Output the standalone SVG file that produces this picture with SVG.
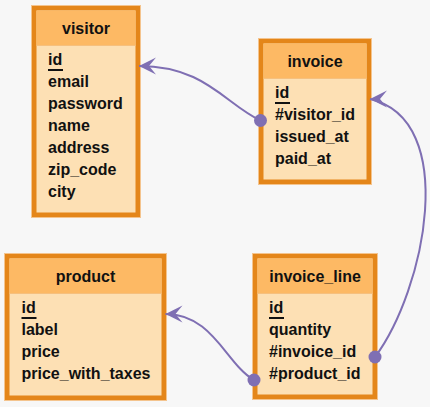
<svg xmlns="http://www.w3.org/2000/svg" width="430" height="407" viewBox="0 0 430 407">
<defs>
<style>
.edge{fill:none;stroke:#f4c48e;stroke-width:1}
.frame{fill:#fde0b4;stroke:#e4861a;stroke-width:4.5}
.head{fill:#fdb964}
.sep{stroke:#f6c07e;stroke-width:1}
.t{font-family:"Liberation Sans",Arial,sans-serif;font-weight:bold;font-size:16px;fill:#111}
.h{text-anchor:middle}
.ul{stroke:#111;stroke-width:2}
.conn{fill:none;stroke:#7f6fb3;stroke-width:2}
.dot{fill:#7f6fb3}
</style>
<marker id="arr" markerUnits="userSpaceOnUse" viewBox="-1 -10 20 20" refX="0" refY="0" markerWidth="20" markerHeight="20" orient="0">
<path d="M0,0 L17,-8.5 L10,0 L17,8.5 Z" fill="#7f6fb3"/>
</marker>
</defs>
<rect width="430" height="407" fill="#f7f7f7"/>

<g id="visitor">
<rect class="edge" x="31.5" y="5.5" width="109" height="212"/>
<rect class="frame" x="34.25" y="8.25" width="103.5" height="206.5"/>
<rect class="head" x="36.5" y="10.5" width="99" height="34.5"/>
<line class="sep" x1="36.5" y1="45.5" x2="135.5" y2="45.5"/>
<text class="t h" x="86" y="34">visitor</text>
<text class="t" x="48" y="65">id</text>
<line class="ul" x1="48" y1="70" x2="63" y2="70"/>
<text class="t" x="48" y="87">email</text>
<text class="t" x="48" y="109">password</text>
<text class="t" x="48" y="131">name</text>
<text class="t" x="48" y="153">address</text>
<text class="t" x="48" y="175">zip_code</text>
<text class="t" x="48" y="197">city</text>
</g>

<g id="invoice">
<rect class="edge" x="258.5" y="38.5" width="113" height="146"/>
<rect class="frame" x="261.25" y="41.25" width="107.5" height="140.5"/>
<rect class="head" x="263.5" y="43.5" width="103" height="34.5"/>
<line class="sep" x1="263.5" y1="78.5" x2="366.5" y2="78.5"/>
<text class="t h" x="315" y="67">invoice</text>
<text class="t" x="275" y="98">id</text>
<line class="ul" x1="275" y1="103" x2="290" y2="103"/>
<text class="t" x="275" y="120">#visitor_id</text>
<text class="t" x="275" y="142">issued_at</text>
<text class="t" x="275" y="164">paid_at</text>
</g>

<g id="product">
<rect class="edge" x="4.5" y="253.5" width="162" height="147"/>
<rect class="frame" x="7.25" y="256.25" width="156.5" height="141.5"/>
<rect class="head" x="9.5" y="258.5" width="152" height="34.5"/>
<line class="sep" x1="9.5" y1="293.5" x2="161.5" y2="293.5"/>
<text class="t h" x="85.5" y="282">product</text>
<text class="t" x="21.5" y="313">id</text>
<line class="ul" x1="21.5" y1="318" x2="36.5" y2="318"/>
<text class="t" x="21.5" y="335">label</text>
<text class="t" x="21.5" y="357">price</text>
<text class="t" x="21.5" y="379">price_with_taxes</text>
</g>

<g id="invoice_line">
<rect class="edge" x="252.5" y="253.5" width="125" height="146"/>
<rect class="frame" x="255.25" y="256.25" width="119.5" height="140.5"/>
<rect class="head" x="257.5" y="258.5" width="115" height="34.5"/>
<line class="sep" x1="257.5" y1="293.5" x2="372.5" y2="293.5"/>
<text class="t h" x="315" y="282">invoice_line</text>
<text class="t" x="269" y="313">id</text>
<line class="ul" x1="269" y1="318" x2="284" y2="318"/>
<text class="t" x="269" y="335">quantity</text>
<text class="t" x="269" y="357">#invoice_id</text>
<text class="t" x="269" y="379">#product_id</text>
</g>

<g id="connectors">
<path class="conn" d="M260.5,120.5 C225,104 205,66 139,66" marker-end="url(#arr)"/>
<circle class="dot" cx="260.5" cy="120.5" r="6.5"/>
<path class="conn" d="M375,357 C425,290 460,120 370,99" marker-end="url(#arr)"/>
<circle class="dot" cx="375" cy="357" r="6.5"/>
<path class="conn" d="M254,380 C226,364 213,314 165.5,314" marker-end="url(#arr)"/>
<circle class="dot" cx="254" cy="380" r="6.5"/>
</g>
</svg>
